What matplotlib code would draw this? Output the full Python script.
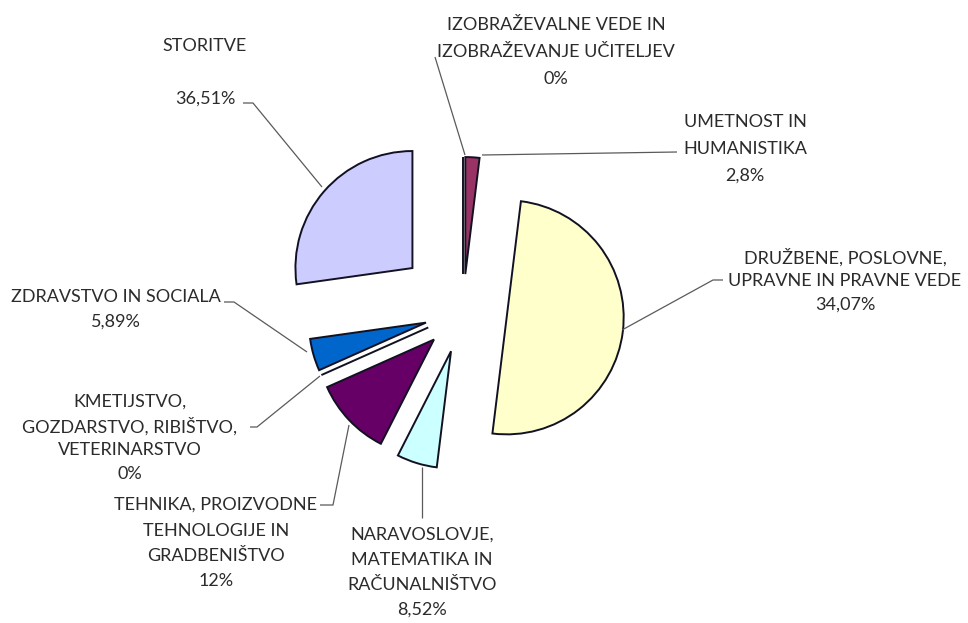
import matplotlib
matplotlib.use("Agg")
import matplotlib.pyplot as plt

# ---- data (clockwise from 12 o'clock) ----
categories = [
    "IZOBRAŽEVALNE VEDE IN\nIZOBRAŽEVANJE UČITELJEV",
    "UMETNOST IN\nHUMANISTIKA",
    "DRUŽBENE, POSLOVNE,\nUPRAVNE IN PRAVNE VEDE",
    "NARAVOSLOVJE,\nMATEMATIKA IN\nRAČUNALNIŠTVO",
    "TEHNIKA, PROIZVODNE\nTEHNOLOGIJE IN\nGRADBENIŠTVO",
    "KMETIJSTVO,\nGOZDARSTVO, RIBIŠTVO,\nVETERINARSTVO",
    "ZDRAVSTVO IN SOCIALA",
    "STORITVE\n",
]
percent_labels = ["0%", "2,8%", "34,07%", "8,52%", "12%", "0%", "5,89%", "36,51%"]
# angular sizes of the slices as drawn in the picture (degrees of the circle)
wedge_sizes = [0, 7, 180, 20, 39, 0, 16, 98]
colors = ["#9999FF", "#993366", "#FFFFCC", "#CCFFFF", "#660066", "#FF8080", "#0066CC", "#CCCCFF"]

# ---- layout (image pixel coordinates, y downward) ----
W, H = 968, 623
center_px = (463, 312)
radius = 117
explode_px = [38, 38, 44, 41, 40, 38, 38.5, 67]

# label block: (center x, first line y, line spacing)
label_pos = [
    (556, 25, 27),
    (745, 122, 27),
    (845, 257, 24),
    (422, 535, 25),
    (216, 505, 25.5),
    (130, 402, 24),
    (116, 297, 25),
    (205, 46, 26.5),
]
leaders = [
    [(435, 57), (465, 155)],
    [(482, 155), (677, 152)],
    [(622, 330), (713, 280), (723, 280)],
    [(422, 518), (422, 467)],
    [(320, 505), (333, 505), (349, 425)],
    [(250, 427), (257, 427), (320, 376)],
    [(224, 302), (234, 302), (307, 352)],
    [(243, 103), (253, 103), (322, 187)],
]

fig = plt.figure(figsize=(W / 100, H / 100), dpi=100)
ax = fig.add_axes([0, 0, 1, 1])

ax.pie(
    wedge_sizes,
    colors=colors,
    startangle=90,
    counterclock=False,
    explode=explode_px,
    radius=radius,
    center=(center_px[0], H - center_px[1]),
    wedgeprops=dict(edgecolor="#111122", linewidth=1.4),
    frame=True,
    normalize=True,
)

# leader lines
for pts in leaders:
    xs = [p[0] for p in pts]
    ys = [H - p[1] for p in pts]
    ax.plot(xs, ys, color="#5a5a5a", lw=0.9, solid_capstyle="butt", zorder=1)

# labels
for cat, pct, (cx, y0, dy) in zip(categories, percent_labels, label_pos):
    lines = cat.split("\n") + [pct]
    for i, line in enumerate(lines):
        if line == "":
            continue
        ax.text(cx, H - (y0 + i * dy), line, ha="center", va="center",
                fontsize=13, family=["Lato", "DejaVu Sans"], color="#2b2b2b")

ax.set_xlim(0, W)
ax.set_ylim(0, H)
ax.set_aspect("equal")
ax.axis("off")

fig.savefig("out.png", dpi=100, facecolor="white")
